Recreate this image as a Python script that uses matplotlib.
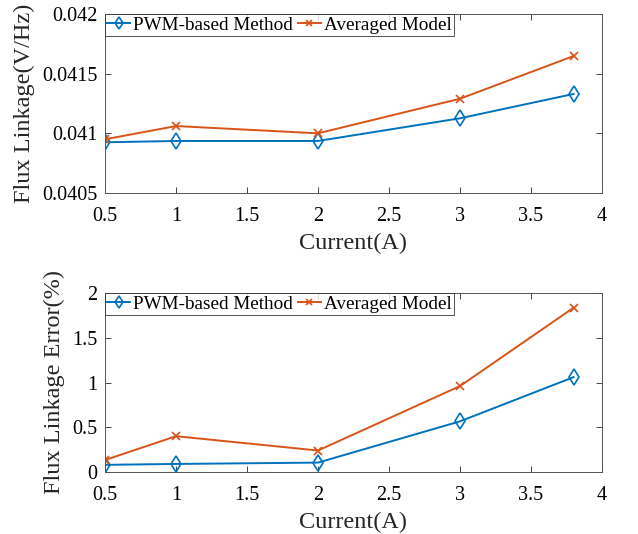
import matplotlib
matplotlib.use("Agg")
import matplotlib.pyplot as plt

current = [0.5, 1, 2, 3, 3.8]
flux_pwm = [0.040925, 0.040936, 0.040936, 0.041126, 0.04133]
flux_avg = [0.04095, 0.041061, 0.041000, 0.04129, 0.041648]
err_pwm = [0.08, 0.09, 0.105, 0.566, 1.06]
err_avg = [0.134, 0.40, 0.24, 0.96, 1.836]

xticks = [0.5, 1, 1.5, 2, 2.5, 3, 3.5, 4]
xtick_labels = ["0.5", "1", "1.5", "2", "2.5", "3", "3.5", "4"]
yticks_top = [0.0405, 0.041, 0.0415, 0.042]
ytick_labels_top = ["0.0405", "0.041", "0.0415", "0.042"]
yticks_bot = [0, 0.5, 1, 1.5, 2]
ytick_labels_bot = ["0", "0.5", "1", "1.5", "2"]

plt.rcParams['font.family'] = ['Liberation Serif', 'DejaVu Serif']
TICK_FS = 14.5
LABEL_FS = 17.5
LEG_FS = 13.8
blue = '#0072BD'
orange = '#D95319'

fig = plt.figure(figsize=(6.38, 5.34), dpi=100)
W, H = 638, 534
ax1 = fig.add_axes([105 / W, 1 - 193 / H, 497 / W, 179 / H])
ax2 = fig.add_axes([105 / W, 1 - 472 / H, 497 / W, 179 / H])

def style(ax, yt, ytl, ylim, ylabel, ylab_x):
    ax.set_xlim(0.5, 4)
    ax.set_ylim(*ylim)
    ax.set_xticks(xticks)
    ax.set_xticklabels(xtick_labels)
    ax.set_yticks(yt)
    ax.set_yticklabels(ytl)
    ax.tick_params(direction='in', top=True, right=True, labelsize=TICK_FS,
                   length=4, width=0.6, color='#262626')
    ax.tick_params(axis='x', pad=10)
    ax.tick_params(axis='y', pad=5.5)
    for s in ax.spines.values():
        s.set_color('#555555')
        s.set_linewidth(0.7)
    ax.set_xlabel('Current(A)', fontsize=LABEL_FS, labelpad=5, color='#262626')
    ax.set_ylabel(ylabel, fontsize=LABEL_FS, color='#262626')
    ax.yaxis.set_label_coords(ylab_x, 0.5)
    leg = ax.legend(loc='upper left', ncol=2, fontsize=LEG_FS, frameon=True,
                    fancybox=False, borderaxespad=0.0, handlelength=1.2,
                    handletextpad=0.15, columnspacing=0.25, borderpad=0.12,
                    markerscale=0.8)
    leg.get_frame().set_edgecolor('#262626')
    leg.get_frame().set_linewidth(0.7)

ax1.plot(current, flux_pwm, color=blue, marker='d', mfc='none', ms=8, lw=1.4,
         mew=1.2, label='PWM-based Method')
ax1.plot(current, flux_avg, color=orange, marker='x', ms=6, lw=1.4,
         mew=1.2, label='Averaged Model')
style(ax1, yticks_top, ytick_labels_top, (0.0405, 0.042), 'Flux Linkage(V/Hz)',
      (35 - 105) / 497)

ax2.plot(current, err_pwm, color=blue, marker='d', mfc='none', ms=8, lw=1.4,
         mew=1.2, label='PWM-based Method')
ax2.plot(current, err_avg, color=orange, marker='x', ms=6, lw=1.4,
         mew=1.2, label='Averaged Model')
style(ax2, yticks_bot, ytick_labels_bot, (0, 2), 'Flux Linkage Error(%)',
      (65 - 105) / 497)

fig.savefig('out.png', dpi=100)
